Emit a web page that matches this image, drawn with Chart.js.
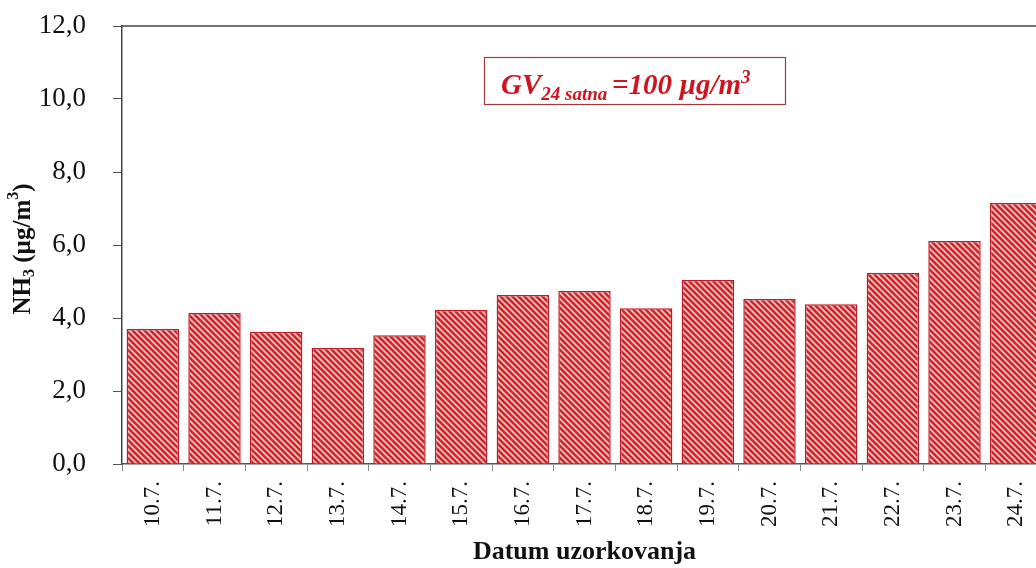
<!DOCTYPE html>
<html>
<head>
<meta charset="utf-8">
<script src="https://cdn.jsdelivr.net/npm/chart.js@4/dist/chart.umd.min.js"></script>
<style>
html, body { margin: 0; padding: 0; background: #fff; overflow: hidden; }
#clip { width: 1036px; height: 568px; overflow: hidden; }
#wrap { width: 1070px; height: 568px; position: relative; }
</style>
</head>
<body>
<div id="clip"><div id="wrap"><canvas id="nh3Chart"></canvas></div></div>
<script>
// sampling dates (July) and NH3 daily values
var dates = ["10.7.", "11.7.", "12.7.", "13.7.", "14.7.", "15.7.", "16.7.", "17.7.", "18.7.", "19.7.", "20.7.", "21.7.", "22.7.", "23.7.", "24.7."];
var nh3Values = [3.70, 4.14, 3.62, 3.18, 3.53, 4.22, 4.63, 4.74, 4.27, 5.04, 4.52, 4.38, 5.23, 6.11, 7.15];
var yMin = 0, yMax = 12, yStep = 2;

var serif = "'Liberation Serif', 'Times New Roman', serif";

function hatch() {
    var c = document.createElement("canvas");
    c.width = 6; c.height = 6;
    var x = c.getContext("2d");
    x.fillStyle = "#fbe6e4";
    x.fillRect(0, 0, 6, 6);
    x.strokeStyle = "#d3262b";
    x.lineWidth = 2.8;
    x.beginPath();
    for (var k = -6; k <= 6; k += 6) {
        x.moveTo(k - 1, -1);
        x.lineTo(k + 7, 7);
    }
    x.stroke();
    return x.createPattern(c, "repeat");
}

var frame = {
    id: "frame",
    afterDraw: function (chart) {
        var ctx = chart.ctx, a = chart.chartArea;
        ctx.save();
        // top border of plot area
        ctx.strokeStyle = "#444";
        ctx.lineWidth = 1.5;
        ctx.beginPath();
        ctx.moveTo(a.left, a.top);
        ctx.lineTo(a.right, a.top);
        ctx.lineTo(a.right, a.bottom);
        ctx.stroke();

        // y axis title with sub/superscript
        ctx.fillStyle = "#111";
        ctx.translate(23, (a.top + a.bottom) / 2 + 4);
        ctx.rotate(-Math.PI / 2);
        var big = "bold 25px " + serif, small = "bold 16px " + serif;
        var parts = [["NH", big, 0], ["3", small, 6], [" (\u00b5g/m", big, 0], ["3", small, -10], [")", big, 0]];
        var w = 0;
        parts.forEach(p => { ctx.font = p[1]; w += ctx.measureText(p[0]).width; });
        var px = -w / 2;
        ctx.textBaseline = "middle";
        parts.forEach(p => {
            ctx.font = p[1];
            ctx.fillText(p[0], px, p[2] + 1);
            px += ctx.measureText(p[0]).width;
        });
        ctx.restore();

        // limit value box
        ctx.save();
        ctx.strokeStyle = "#a33a3a";
        ctx.lineWidth = 1.2;
        ctx.strokeRect(484.5, 57.5, 301, 47);
        ctx.fillStyle = "#d0141e";
        ctx.textBaseline = "alphabetic";
        var bigI = "italic bold 29px " + serif, smallI = "italic bold 19px " + serif;
        var t = [["GV", bigI, 0], ["24 satna ", smallI, 6], ["=100 \u00b5g/m", bigI, 0], ["3", smallI, -11]];
        var tx = 501;
        t.forEach(p => {
            ctx.font = p[1];
            ctx.fillText(p[0], tx, 94 + p[2]);
            tx += ctx.measureText(p[0]).width;
        });
        ctx.restore();
    }
};

var data = {
    labels: dates,
    datasets: [{
        label: "NH3",
        data: nh3Values,
        backgroundColor: hatch(),
        borderColor: "#c01a26",
        borderWidth: 1.5,
        categoryPercentage: 0.85,
        barPercentage: 1
    }]
};

var config = {
    type: "bar",
    data: data,
    options: {
        responsive: true,
        maintainAspectRatio: false,
        animation: false,
        layout: { padding: { top: 26, right: 23, left: 0, bottom: 0 } },
        plugins: { legend: { display: false }, tooltip: { enabled: false } },
        scales: {
            x: {
                grid: { offset: true, drawOnChartArea: false, drawTicks: true, tickLength: 7, color: "#888" },
                border: { color: "#555", width: 1.5 },
                ticks: { color: "#111", minRotation: 90, maxRotation: 90, padding: 10, font: { family: serif, size: 23 } },
                title: { display: true, text: "Datum uzorkovanja", color: "#111", padding: { top: 0, bottom: 0 }, font: { family: serif, size: 26, weight: "bold" } },
                afterFit: function (s) { s.height = 104; }
            },
            y: {
                min: yMin, max: yMax,
                grid: { drawOnChartArea: false, drawTicks: true, tickLength: 9, color: "#555" },
                border: { color: "#444", width: 1.5 },
                ticks: {
                    stepSize: yStep, color: "#111", padding: 27,
                    font: { family: serif, size: 27 },
                    callback: v => v.toFixed(1).replace(".", ",")
                },
                afterFit: function (s) { s.width = 122; s.paddingTop = 0; s.paddingBottom = 0; }
            }
        }
    },
    plugins: [frame]
};

var nh3Chart = new Chart(document.getElementById("nh3Chart"), config);
</script>
</body>
</html>
